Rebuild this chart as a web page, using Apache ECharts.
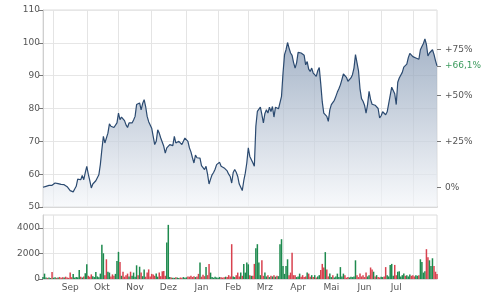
<!DOCTYPE html>
<html><head><meta charset="utf-8">
<script src="https://cdn.jsdelivr.net/npm/echarts@6/dist/echarts.min.js"></script>
<style>html,body{margin:0;padding:0;background:#fff}#c{width:490px;height:301px}</style>
</head><body><div id="c"></div>
<script>
const firstDay = [2021, 7, 23];   // 23 Aug 2021 (month 0-based)
const lastDay = [2022, 7, 23];    // 23 Aug 2022
const monthNames = ['Jan','Feb','Mrz','Apr','Mai','Jun','Jul','Aug','Sep','Okt','Nov','Dez'];
const pctTicks = [0, 25, 50, 75];
const volTicks = [0, 2000, 4000];

const prices = [
56.0,56.0,56.3,56.1,56.6,56.8,56.6,57.0,57.3,57.0,
57.1,57.0,56.9,56.8,56.8,56.7,56.2,55.6,55.0,54.4,
54.6,55.5,56.3,58.5,58.8,58.3,59.6,58.3,60.5,62.4,
60.0,58.0,55.8,57.0,57.3,58.0,58.3,59.8,63.0,67.5,
71.5,69.5,69.2,72.5,75.3,74.6,74.4,74.2,74.8,75.6,
78.6,76.6,77.4,76.8,76.3,75.0,74.2,75.6,75.4,75.6,
76.5,77.6,81.2,80.6,81.7,79.6,81.5,82.7,80.6,77.6,
76.0,75.4,74.0,71.5,69.0,70.0,73.5,72.5,71.0,70.5,
68.5,66.4,68.0,68.5,69.0,68.7,68.7,71.5,69.5,69.8,
70.0,69.7,69.0,70.0,71.0,71.3,70.0,68.0,66.8,65.0,
63.4,65.8,65.0,64.4,64.9,62.6,62.0,61.4,62.4,60.0,
57.0,58.5,59.8,60.5,61.5,62.9,63.2,63.6,62.4,62.0,
61.9,62.4,61.0,60.0,59.3,57.3,60.5,61.4,60.6,59.3,
57.0,57.1,55.0,58.0,60.3,63.4,68.0,65.4,66.0,63.5,
62.4,74.6,79.1,79.6,80.4,78.1,75.6,78.5,79.6,78.6,
80.4,79.1,80.6,77.4,80.4,79.8,79.9,80.3,83.7,90.8,
96.4,97.9,100.1,98.4,96.9,96.2,94.0,92.3,93.9,97.1,
97.1,96.9,96.7,96.2,93.3,94.3,92.0,91.3,92.3,90.8,
90.8,89.8,91.5,92.5,87.5,82.0,78.6,79.1,77.6,76.1,
79.6,81.2,80.6,82.5,83.7,85.0,86.0,87.2,88.8,90.5,
90.3,89.5,88.3,88.8,89.3,90.3,92.3,96.4,94.0,91.5,
86.0,83.0,82.2,81.0,78.6,81.2,85.2,82.8,81.3,81.7,
81.0,81.5,80.0,77.1,77.8,79.0,78.6,78.1,79.0,81.5,
84.0,86.5,87.0,84.5,81.2,88.0,89.3,89.3,91.0,92.6,
92.0,93.5,95.5,96.8,96.2,95.8,95.4,95.4,95.4,95.0,
97.9,98.9,99.8,101.2,99.5,96.0,96.9,97.4,97.9,96.5,
94.6,93.0
];

const volumes = [
150,420,120,90,110,80,550,100,130,90,
120,160,100,140,110,180,120,90,500,140,
400,110,160,130,700,180,120,200,450,1150,
250,180,360,220,150,550,200,130,420,2670,
2010,300,1540,570,500,200,360,250,400,1410,
2120,1330,250,570,180,300,420,200,570,250,
500,180,1070,300,960,500,220,750,180,500,
750,200,400,360,250,420,180,500,220,600,
630,250,2850,4230,150,120,100,90,130,110,
80,120,100,150,90,130,200,180,250,160,
220,150,200,400,1280,180,330,220,930,300,
1180,500,150,100,180,120,90,160,140,110,
130,180,150,300,200,2720,200,150,300,500,
200,500,250,1180,500,1280,1150,300,250,250,
1180,2400,2720,1280,300,1460,250,500,200,300,
150,250,200,300,180,250,220,2720,3110,1020,
400,1020,1540,300,500,2060,300,300,150,200,
420,180,300,150,200,500,420,180,300,150,
300,120,200,300,700,1180,900,2100,750,200,
420,150,300,120,200,420,150,930,200,420,
300,100,150,120,180,150,200,1460,300,150,
420,200,300,150,500,200,300,900,750,570,
200,300,150,120,180,150,200,930,300,200,
1100,1180,250,1100,300,570,600,200,300,420,
250,300,200,350,250,300,200,300,250,300,
1540,1330,500,600,2330,1700,1460,1020,1620,1020,
570,400
];

// trading days (weekdays)
const dates = [];
for (let t = Date.UTC(...firstDay); t <= Date.UTC(...lastDay); t += 86400000) {
  const d = new Date(t), w = d.getUTCDay();
  if (w > 0 && w < 6) dates.push(d.toISOString().slice(0, 10));
}
const monthStart = new Set(), starts = [];
for (let i = 1; i < dates.length; i++) {
  if (dates[i].slice(0, 7) !== dates[i - 1].slice(0, 7)) { monthStart.add(i); starts.push(i); }
}
const labelIdx = new Set();
for (let k = 0; k + 1 < starts.length; k++) labelIdx.add(starts[k] + Math.floor((starts[k + 1] - starts[k]) / 2));

const base = prices[0], last = prices[prices.length - 1];
const pctVals = pctTicks.map(p => base * (1 + p / 100));
const lastPct = (last / base - 1) * 100;
const rightVals = pctVals.concat([last]);

const FONT = 'DejaVu Sans', FS = 9, TC = '#555';
const GREEN = '#1e8a4e', RED = '#d8424f';
const splitInterval = (i) => monthStart.has(i);

const chart = echarts.init(document.getElementById('c'), null, {renderer: 'canvas'});
chart.setOption({
  animation: false,
  backgroundColor: '#fff',
  grid: [
    {left: 43, right: 53, top: 10, height: 197, show: true, borderColor: '#dcdcdc', borderWidth: 1, outerBoundsMode: 'none'},
    {left: 43, right: 53, top: 215, height: 64, show: true, borderColor: '#dcdcdc', borderWidth: 1, outerBoundsMode: 'none'}
  ],
  xAxis: [
    {gridIndex: 0, type: 'category', data: dates, boundaryGap: false,
     axisLine: {show: true, lineStyle: {color: '#d8d8d8', width: 2}},
     axisTick: {show: false}, axisLabel: {show: false},
     splitLine: {show: true, interval: splitInterval, lineStyle: {color: '#e4e4e4', width: 1}}},
    {gridIndex: 1, type: 'category', data: dates, boundaryGap: false,
     axisLine: {show: true, lineStyle: {color: '#d8d8d8', width: 1}},
     axisTick: {show: false},
     axisLabel: {show: true, interval: (i) => labelIdx.has(i), margin: 4,
       formatter: (v) => monthNames[parseInt(v.slice(5, 7), 10) - 1],
       color: TC, fontFamily: FONT, fontSize: FS},
     splitLine: {show: true, interval: splitInterval, lineStyle: {color: '#e4e4e4', width: 1}}}
  ],
  yAxis: [
    {gridIndex: 0, type: 'value', position: 'left', min: 50, max: 110, interval: 10,
     axisLine: {show: true, lineStyle: {color: '#cfcfcf'}},
     axisTick: {show: true, length: 4, lineStyle: {color: '#777'}},
     axisLabel: {margin: 3, color: TC, fontFamily: FONT, fontSize: FS},
     splitLine: {show: true, lineStyle: {color: '#e6e6e6'}}},
    {gridIndex: 0, type: 'value', position: 'right', min: 50, max: 110,
     axisLine: {show: false},
     axisTick: {show: true, length: 4, customValues: rightVals, lineStyle: {color: '#777'}},
     axisLabel: {show: true, margin: 8, customValues: rightVals, color: TC, fontFamily: FONT, fontSize: FS,
       formatter: (v) => {
         if (Math.abs(v - last) < 1e-9) return '{g|+' + lastPct.toFixed(1).replace('.', ',') + '%}';
         const p = Math.round((v / base - 1) * 100);
         return (p > 0 ? '+' : '') + p + '%';
       },
       rich: {g: {color: '#3d9b5e', fontFamily: FONT, fontSize: FS}}},
     splitLine: {show: false}},
    {gridIndex: 1, type: 'value', position: 'left', min: 0, max: 5000,
     axisLine: {show: true, lineStyle: {color: '#cfcfcf'}},
     axisTick: {show: true, length: 4, customValues: volTicks, lineStyle: {color: '#777'}},
     axisLabel: {margin: 3, customValues: volTicks, color: TC, fontFamily: FONT, fontSize: FS,
       formatter: (v) => String(Math.round(v))},
     splitLine: {show: true, lineStyle: {color: '#e6e6e6'}}}
  ],
  series: [
    {type: 'line', xAxisIndex: 0, yAxisIndex: 0, data: prices, showSymbol: false, symbol: 'none',
     lineStyle: {color: '#2b4a70', width: 1.2},
     areaStyle: {color: new echarts.graphic.LinearGradient(0, 0, 0, 1, [
       {offset: 0, color: '#7f94b0'}, {offset: 1, color: '#f5f7fa'}])}},
    {type: 'bar', xAxisIndex: 1, yAxisIndex: 2, barWidth: 1.5,
     data: volumes.map((v, i) => ({value: v, itemStyle: {color: (i === 0 || prices[i] >= prices[i - 1]) ? GREEN : RED}}))}
  ]
});
</script></body></html>
